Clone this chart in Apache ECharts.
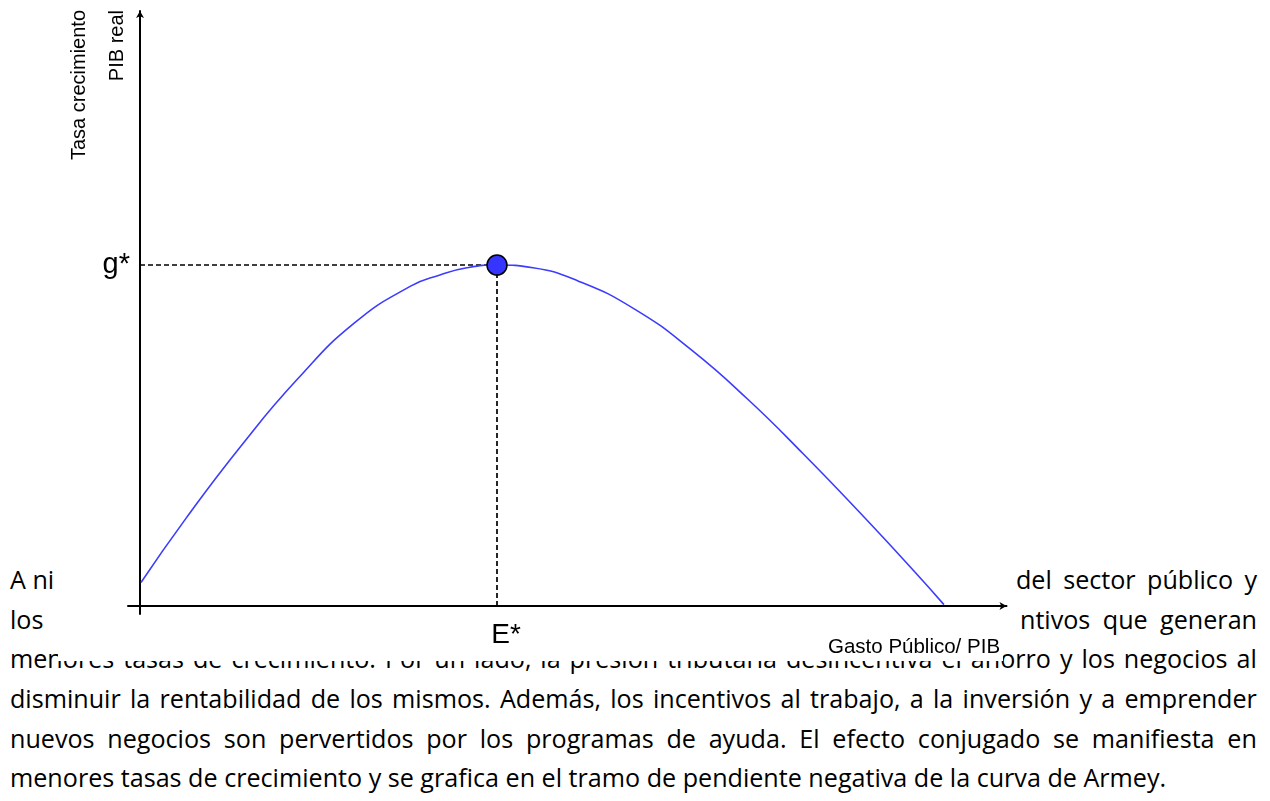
<!DOCTYPE html>
<html><head><meta charset="utf-8">
<script src="https://cdn.jsdelivr.net/npm/echarts@6/dist/echarts.min.js"></script>
<style>
html,body{margin:0;padding:0;background:#fff;}
#page{position:relative;width:1270px;height:801px;overflow:hidden;background:#fff;}
.ln{position:absolute;display:flex;justify-content:space-between;white-space:nowrap;font-family:'Open Sans',sans-serif;color:#000;line-height:1;z-index:0;}
#mask{position:absolute;left:58px;top:0;width:945px;height:661px;background:#fff;z-index:1;}
#chart{position:absolute;left:0;top:0;width:1270px;height:801px;z-index:2;}
</style></head>
<body>
<div id="page">
  <div id="text"></div>
  <div id="mask"></div>
  <div id="chart"></div>
</div>
<script>
// ---- chart data ----
const curveX = [0.11, 5.15, 11.43, 17.70, 24.03, 30.32, 33.61, 36.62, 40.0, 44.03, 49.19, 55.46, 61.78, 68.07, 74.36, 80.65, 86.95, 90.08];
const curveY = [0.69, 2.57, 4.73, 6.67, 8.30, 9.38, 9.71, 9.92, 10.0, 9.92, 9.52, 8.70, 7.51, 6.07, 4.45, 2.74, 0.96, 0.04];
const peakX = 40;
const peakY = 10;
const xTickValues = [40];
const xTickLabels = ['E*'];
const yTickValues = [10];
const yTickLabels = ['g*'];
const yTitleLines = ['Tasa crecimiento', 'PIB real'];
const xTitle = 'Gasto Público/ PIB';

// ---- surrounding paragraph (document text) ----
const paraLines = [
  {left: 'A ni', right: 'del sector público y', rightStart: 1016, base: 589.3},
  {left: 'los', right: 'ntivos que generan', rightStart: 1020, base: 629},
  {full: 'menores tasas de crecimiento. Por un lado, la presión tributaria desincentiva el ahorro y los negocios al', base: 668.7},
  {full: 'disminuir la rentabilidad de los mismos. Además, los incentivos al trabajo, a la inversión y a emprender', base: 708.4},
  {full: 'nuevos negocios son pervertidos por los programas de ayuda. El efecto conjugado se manifiesta en', base: 748.1},
  {last: 'menores tasas de crecimiento y se grafica en el tramo de pendiente negativa de la curva de Armey.', base: 787.8, width: 1157}
];
const ASC = 0.888;
const textBox = document.getElementById('text');
// fit font size so the unjustified last line has the reference width
const probe = document.createElement('span');
probe.className = 'ln';
probe.style.fontSize = '20px';
probe.style.visibility = 'hidden';
probe.textContent = paraLines[5].last;
document.body.appendChild(probe);
const FS = 20 * 1157 / probe.getBoundingClientRect().width;
probe.remove();

function mkLine(words, left, width, base) {
  const d = document.createElement('div');
  d.className = 'ln';
  d.style.fontSize = FS + 'px';
  d.style.left = left + 'px';
  d.style.width = width + 'px';
  d.style.top = (base - ASC * FS) + 'px';
  words.forEach(w => { const s = document.createElement('span'); s.textContent = w; d.appendChild(s); });
  textBox.appendChild(d);
  return d;
}
paraLines.forEach(l => {
  if (l.full) mkLine(l.full.split(' '), 10, 1247, l.base);
  else if (l.left) {
    mkLine([l.left], 10, 48, l.base);
    mkLine(l.right.split(' '), l.rightStart, 1257 - l.rightStart, l.base);
  } else {
    const d = mkLine([l.last], 10, 1600, l.base);
    d.style.justifyContent = 'flex-start';
  }
});

// ---- chart ----
const chart = echarts.init(document.getElementById('chart'), null, {renderer: 'canvas'});
const AX_FONT = 'Liberation Sans, Arial, sans-serif';
chart.setOption({
  animation: false,
  backgroundColor: 'transparent',
  grid: {left: 128, top: 11, width: 878.5, height: 603, outerBoundsMode: 'none', containLabel: false},
  xAxis: {
    type: 'value', min: -1.345, max: 97.09,
    axisLine: {onZero: true, symbol: ['none', 'arrow'], symbolSize: [6, 7], lineStyle: {color: '#000', width: 2}},
    axisTick: {show: false}, splitLine: {show: false},
    axisLabel: {
      customValues: xTickValues,
      formatter: v => xTickLabels[xTickValues.indexOf(v)] || '',
      fontSize: 28, fontFamily: AX_FONT, color: '#000', margin: 7, padding: [0, 0, 0, 18]
    }
  },
  yAxis: {
    type: 'value', min: -0.2346, max: 17.45,
    axisLine: {onZero: true, symbol: ['none', 'arrow'], symbolSize: [6, 7], lineStyle: {color: '#000', width: 2}},
    axisTick: {show: false}, splitLine: {show: false},
    axisLabel: {
      customValues: yTickValues,
      formatter: v => yTickLabels[yTickValues.indexOf(v)] || '',
      fontSize: 29, fontFamily: AX_FONT, color: '#000', margin: -2
    }
  },
  graphic: [
    {type: 'text', x: 79, y: 10, rotation: Math.PI / 2, style: {text: yTitleLines[0], align: 'right', verticalAlign: 'middle', font: '20px ' + AX_FONT, fill: '#000'}},
    {type: 'text', x: 117, y: 10, rotation: Math.PI / 2, style: {text: yTitleLines[1], align: 'right', verticalAlign: 'middle', font: '20px ' + AX_FONT, fill: '#000'}},
    {type: 'text', x: 828, y: 647, style: {text: xTitle, align: 'left', verticalAlign: 'middle', font: '20.5px ' + AX_FONT, fill: '#000'}}
  ],
  series: [
    {
      type: 'line', data: curveX.map((x, i) => [x, curveY[i]]),
      smooth: 0.5, showSymbol: false, z: 3,
      lineStyle: {color: '#3c3cff', width: 1.6},
      markLine: {
        silent: true, symbol: 'none', z: 2,
        label: {show: false},
        lineStyle: {color: '#000', width: 1.7, type: [5, 3]},
        data: [
          [{coord: [0, peakY]}, {coord: [peakX, peakY]}],
          [{coord: [peakX, peakY]}, {coord: [peakX, 0]}]
        ]
      }
    },
    {
      type: 'scatter', data: [[peakX, peakY]], symbol: 'circle', symbolSize: 20, z: 5,
      itemStyle: {color: '#3535ff', borderColor: '#000', borderWidth: 1.5, opacity: 1}
    }
  ]
});
</script>
</body></html>
